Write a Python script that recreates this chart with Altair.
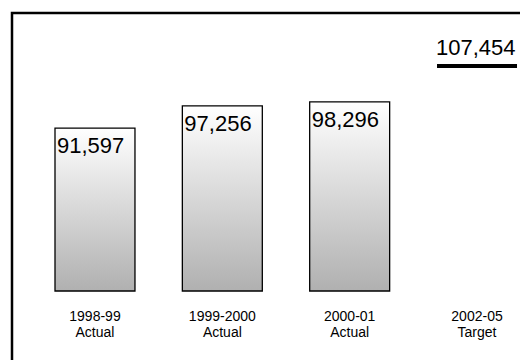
import altair as alt
import pandas as pd

periods = ["1998-99", "1999-2000", "2000-01", "2002-05"]
kinds = ["Actual", "Actual", "Actual", "Target"]
values = [91597, 97256, 98296, 107454]

labels = [p + "\n" + k for p, k in zip(periods, kinds)]
df = pd.DataFrame({"label": labels, "value": values, "kind": kinds,
                   "txt": [f"{v:,}" for v in values]})
actual = df[df.kind == "Actual"]
target = df[df.kind == "Target"]

FONT = "Liberation Sans"

xs = alt.X("label:N", sort=labels,
           scale=alt.Scale(paddingInner=0.372, paddingOuter=0),
           axis=alt.Axis(title=None, domain=False, ticks=False, labelAngle=0,
                         labelExpr="split(datum.label, '\\n')",
                         labelFont=FONT, labelFontSize=14, labelColor="black",
                         labelPadding=18, labelLineHeight=16))
ys = alt.Y("value:Q", scale=alt.Scale(domain=[50000, 110000], nice=False, zero=False),
           axis=None)

grad = alt.Gradient(gradient="linear", x1=0, x2=0, y1=0, y2=1,
                    stops=[alt.GradientStop(color="#ffffff", offset=0),
                           alt.GradientStop(color="#b0b0b0", offset=1)])

bars = alt.Chart(actual).mark_bar(color=grad, stroke="black", strokeWidth=1.3).encode(
    x=xs, y=ys, y2=alt.datum(50000))

bar_txt = alt.Chart(actual).mark_text(align="left", baseline="alphabetic", dx=2, dy=25,
                                      font=FONT, fontSize=22, color="black").encode(
    x=alt.X("label:N", sort=labels, bandPosition=0), y=ys, text="txt:N")

tick = alt.Chart(target).mark_tick(thickness=4, size=80, color="black", opacity=1).encode(
    x=alt.X("label:N", sort=labels), y=ys)

tgt_txt = alt.Chart(target).mark_text(align="left", baseline="alphabetic", dx=-1, dy=-11,
                                      font=FONT, fontSize=22, color="black").encode(
    x=alt.X("label:N", sort=labels, bandPosition=0), y=ys, text="txt:N")

border = alt.Chart(pd.DataFrame({"a": [0]})).mark_rect(
    fillOpacity=0, stroke="black", strokeWidth=2.5).encode(
    x=alt.value(-43), x2=alt.value(600), y=alt.value(-43), y2=alt.value(400))

chart = alt.layer(bars, bar_txt, tick, tgt_txt, border).properties(
    width=462, height=235,
    padding={"left": 55, "top": 56, "right": 3, "bottom": 69},
    autosize=alt.AutoSizeParams(type="none"),
    background="white",
).configure_view(stroke=None)

chart.save("out.html", embed_options={"renderer": "svg", "actions": False})
